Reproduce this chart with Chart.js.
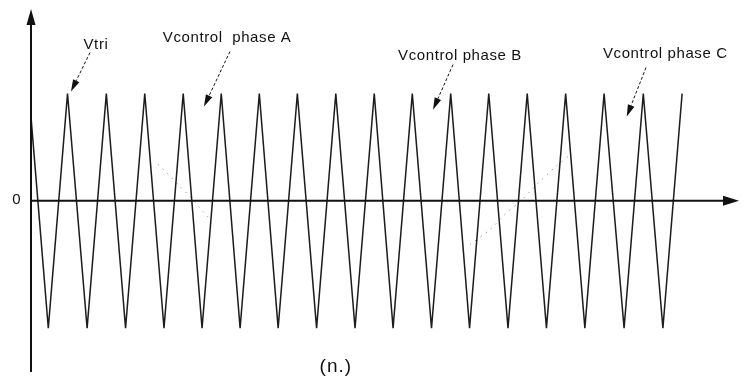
<!DOCTYPE html>
<html>
<head>
<meta charset="utf-8">
<script src="https://cdn.jsdelivr.net/npm/chart.js@4/dist/chart.umd.min.js"></script>
<style>
  html, body { margin: 0; padding: 0; background: #fff; }
  #wrap { width: 756px; height: 383px; position: relative; }
</style>
</head>
<body>
<div id="wrap"><canvas id="pwm"></canvas></div>
<script>
// carrier (Vtri) corners, time in carrier periods
const peakTimes = [-0.05, 0.95, 1.96, 2.96, 3.96, 4.95, 5.94, 6.93, 7.93, 8.93, 9.92, 10.92, 11.91, 12.91, 13.91, 14.91, 15.93, 16.94];
const troughTimes = [0.45, 1.46, 2.46, 3.46, 4.45, 5.44, 6.43, 7.43, 8.43, 9.42, 10.42, 11.41, 12.41, 13.41, 14.41, 15.43, 16.44];
const peakLevel = 1.0;
const troughLevel = -1.19;

// faint control waveforms (only the visible stretches)
const ctrlATimes = [3.30, 3.56, 3.88, 4.21, 4.47, 4.66];
const ctrlAValues = [0.34, 0.25, 0.13, 0.01, -0.10, -0.17];
const ctrlCTimes = [11.42, 11.94, 12.33, 12.72, 13.24, 13.63, 14.07];
const ctrlCValues = [-0.41, -0.27, -0.13, -0.01, 0.18, 0.31, 0.44];

const xMin = 0, xMax = 18.42;
const yMin = -1.6, yMax = 1.79;

// merge peaks and troughs into one polyline
const tri = [];
peakTimes.forEach((t, i) => {
    tri.push({ x: t, y: peakLevel });
    if (i < troughTimes.length) tri.push({ x: troughTimes[i], y: troughLevel });
});

const pairs = (xs, ys) => xs.map((x, i) => ({ x: x, y: ys[i] }));

// text labels and pointer arrows, placed in data units
const labels = [
    { text: "Vtri", x: 1.69, y: 1.42, align: "center" },
    { text: "Vcontrol  phase A", x: 3.43, y: 1.486, align: "left" },
    { text: "Vcontrol phase B", x: 9.55, y: 1.318, align: "left" },
    { text: "Vcontrol phase C", x: 14.88, y: 1.336, align: "left" }
];
const pointers = [
    { from: [1.535, 1.383], to: [1.04, 1.019] },
    { from: [5.177, 1.393], to: [4.50, 0.879] },
    { from: [10.98, 1.271], to: [10.46, 0.850] },
    { from: [16.0, 1.243], to: [15.50, 0.785] }
];

const decor = {
    id: "decor",
    afterDraw(chart) {
        const ctx = chart.ctx;
        const sx = chart.scales.x, sy = chart.scales.y;
        const X = v => sx.getPixelForValue(v);
        const Y = v => sy.getPixelForValue(v);
        const ink = "#111";

        ctx.save();
        // axes
        const x0 = X(0), y0 = Y(0);
        const top = Y(yMax), bottom = Y(yMin), right = X(xMax);
        ctx.strokeStyle = ink;
        ctx.fillStyle = ink;
        ctx.lineWidth = 2;
        ctx.beginPath();
        ctx.moveTo(x0, bottom);
        ctx.lineTo(x0, top + 14);
        ctx.moveTo(x0, y0);
        ctx.lineTo(right - 14, y0);
        ctx.stroke();
        ctx.beginPath();
        ctx.moveTo(x0, top);
        ctx.lineTo(x0 - 4.5, top + 16);
        ctx.lineTo(x0 + 4.5, top + 16);
        ctx.closePath();
        ctx.fill();
        ctx.beginPath();
        ctx.moveTo(right, y0);
        ctx.lineTo(right - 16, y0 - 5);
        ctx.lineTo(right - 16, y0 + 5);
        ctx.closePath();
        ctx.fill();

        // pointer arrows
        ctx.lineWidth = 1;
        pointers.forEach(p => {
            const ax = X(p.from[0]), ay = Y(p.from[1]);
            const bx = X(p.to[0]), by = Y(p.to[1]);
            const ang = Math.atan2(by - ay, bx - ax);
            const len = 12, half = 3.5;
            const cx = bx - len * Math.cos(ang), cy = by - len * Math.sin(ang);
            ctx.setLineDash([3, 2]);
            ctx.beginPath();
            ctx.moveTo(ax, ay);
            ctx.lineTo(cx, cy);
            ctx.stroke();
            ctx.setLineDash([]);
            ctx.beginPath();
            ctx.moveTo(bx, by);
            ctx.lineTo(cx + half * Math.sin(ang), cy - half * Math.cos(ang));
            ctx.lineTo(cx - half * Math.sin(ang), cy + half * Math.cos(ang));
            ctx.closePath();
            ctx.fill();
        });

        // texts
        ctx.font = "15px 'Liberation Sans', Arial, sans-serif";
        ctx.letterSpacing = "0.6px";
        ctx.textBaseline = "alphabetic";
        labels.forEach(l => {
            ctx.textAlign = l.align;
            ctx.fillText(l.text, X(l.x), Y(l.y));
        });
        ctx.letterSpacing = "0px";
        ctx.textAlign = "center";
        ctx.textBaseline = "middle";
        ctx.font = "15px 'Liberation Sans', Arial, sans-serif";
        ctx.fillText("0", X(-0.377), Y(0.01));
        ctx.font = "19px 'Liberation Sans', Arial, sans-serif";
        ctx.letterSpacing = "1px";
        ctx.fillText("(n.)", X(7.93), Y(-1.551));
        ctx.restore();
    }
};

new Chart(document.getElementById("pwm"), {
    type: "line",
    data: {
        datasets: [
            {
                label: "Vtri",
                data: tri,
                borderColor: "#1c1c1c",
                borderWidth: 1.5,
                pointRadius: 0,
                tension: 0
            },
            {
                label: "Vcontrol phase A",
                data: pairs(ctrlATimes, ctrlAValues),
                borderColor: "#9a9a9a",
                borderWidth: 1,
                borderDash: [1.5, 5],
                pointRadius: 0,
                tension: 0.3
            },
            {
                label: "Vcontrol phase C",
                data: pairs(ctrlCTimes, ctrlCValues),
                borderColor: "#9a9a9a",
                borderWidth: 1,
                borderDash: [1.5, 5],
                pointRadius: 0,
                tension: 0.3
            }
        ]
    },
    options: {
        responsive: true,
        maintainAspectRatio: false,
        animation: false,
        layout: { padding: { left: 31, right: 17, top: 9, bottom: 11 } },
        plugins: {
            legend: { display: false },
            tooltip: { enabled: false }
        },
        scales: {
            x: { type: "linear", min: xMin, max: xMax, display: false },
            y: { min: yMin, max: yMax, display: false }
        }
    },
    plugins: [decor]
});
</script>
</body>
</html>
